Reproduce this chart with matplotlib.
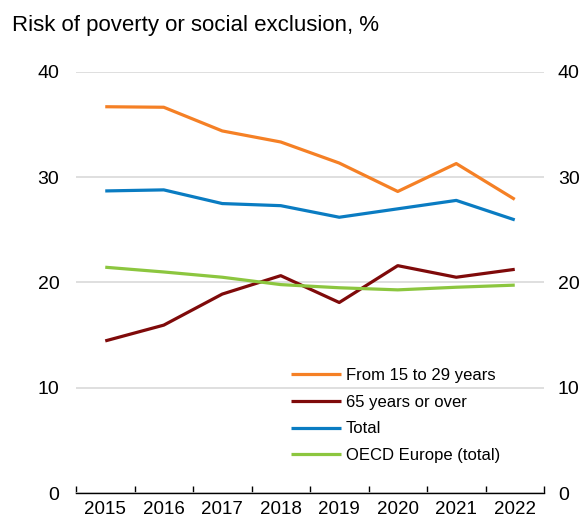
import matplotlib
matplotlib.use("Agg")
import matplotlib.pyplot as plt
from matplotlib import font_manager as fm

names = {f.name for f in fm.fontManager.ttflist}
FONT = "Liberation Sans Narrow" if "Liberation Sans Narrow" in names else "Liberation Sans"
plt.rcParams['font.family'] = [FONT, 'DejaVu Sans']

years = ["2015", "2016", "2017", "2018", "2019", "2020", "2021", "2022"]
youth = [36.7, 36.65, 34.4, 33.35, 31.35, 28.65, 31.3, 27.9]
elderly = [14.45, 15.95, 18.9, 20.65, 18.1, 21.6, 20.5, 21.25]
total = [28.7, 28.8, 27.5, 27.3, 26.2, 27.0, 27.8, 25.95]
oecd_europe = [21.45, 21.0, 20.5, 19.8, 19.5, 19.3, 19.55, 19.75]
labels = ["From 15 to 29 years", "65 years or over", "Total", "OECD Europe (total)"]
yticks = [0, 10, 20, 30, 40]
title = "Risk of poverty or social exclusion, %"

colors = ["#F58025", "#7F0A0A", "#0A7CC2", "#8CC63F"]

fig = plt.figure(figsize=(5.82, 5.18), dpi=100)
ax = fig.add_axes([76/582, 1-493/518, (544-76)/582, (493-72)/518])
x = list(range(len(years)))
for series, lab, c in zip([youth, elderly, total, oecd_europe], labels, colors):
    ax.plot(x, series, color=c, lw=2.3, label=lab, solid_capstyle='butt', zorder=3)

ax.set_xlim(-0.5, len(years)-0.5)
ax.set_ylim(0, 40)
ax.set_yticks(yticks)
ax.yaxis.grid(True, color="#d9d9d9", lw=1.2, zorder=0)
ax.set_axisbelow(True)
for s in ["left", "right", "top"]:
    ax.spines[s].set_visible(False)
ax.spines["bottom"].set_color("black")
ax.spines["bottom"].set_linewidth(1.0)

ax.set_xticks([i - 0.5 for i in range(len(years)+1)])
ax.set_xticklabels([])
ax.tick_params(axis='x', which='major', direction='in', length=5, width=1.0, color='black')
ax.set_xticks(x, minor=True)
ax.set_xticklabels(years, minor=True)
ax.tick_params(axis='x', which='minor', length=0, pad=6, labelsize=13.5)
ax.tick_params(axis='y', length=0, pad=12, labelsize=14)

ax2 = ax.twinx()
ax2.set_ylim(ax.get_ylim())
ax2.set_yticks(yticks)
ax2.tick_params(axis='y', length=0, pad=10, labelsize=14)
for s in ["left", "right", "top", "bottom"]:
    ax2.spines[s].set_visible(False)

leg = ax.legend(loc='upper left', bbox_to_anchor=((291-76)/468, (493-368)/421),
                frameon=False, fontsize=12, handlelength=3.0, handletextpad=0.3,
                labelspacing=0.7, borderpad=0, borderaxespad=0)

fig.text(12/582, 1-15/518, title, fontsize=16, va='top', ha='left')
fig.savefig("out.png", dpi=100)
